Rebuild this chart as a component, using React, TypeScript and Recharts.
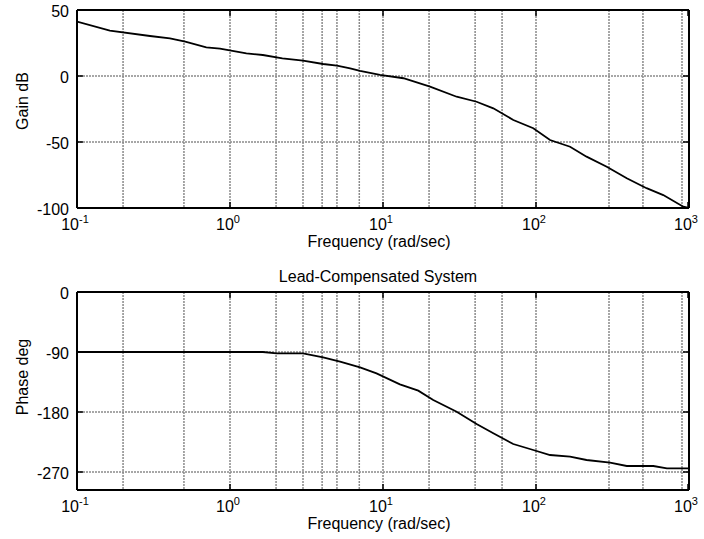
import React from 'react';
import {
    LineChart, Line, XAxis, YAxis, CartesianGrid,
} from 'recharts';

// Gain plot (top)
const GAIN_FREQ = [0.1, 0.164, 0.3, 0.405, 0.51, 0.7, 0.86, 1.28, 1.64, 2.2, 3.0, 4.06, 5.0, 6.1, 7.08, 9.55, 13.6, 20.3, 30.3, 40.9, 52.6, 71.1, 96, 123.5, 167, 214, 290, 392, 528, 679, 918, 1000];
const GAIN_DB = [41.2, 34.3, 30.3, 28.5, 26, 21.7, 20.7, 17.2, 15.9, 13.4, 11.6, 9.1, 7.8, 5.8, 3.8, 0.8, -1.7, -8.1, -15.7, -19.5, -24.5, -33.3, -39.6, -48.5, -53.6, -61.1, -68.7, -77.5, -85, -90.2, -99, -100];

// Phase plot (bottom)
const PHASE_FREQ = [0.1, 1.64, 2.02, 3.0, 4.06, 5.24, 7.08, 9.07, 12.9, 17, 21.3, 30.3, 40.9, 52.6, 71, 96, 123.5, 167, 214, 305, 392, 585, 717, 1000];
const PHASE_DEG = [-90, -90, -92, -92, -98, -104.5, -113, -122, -138.5, -148, -162, -179.5, -198, -212, -228, -237, -244.5, -247, -252, -256, -261, -261, -264.5, -264.5];

const FREQ_TICKS = [0.1, 1, 10, 100, 1000];
const GAIN_TICKS = [-100, -50, 0, 50];
const PHASE_TICKS = [-270, -180, -90, 0];

// dotted grid at every decade and minor 2..9 position
const GRID_FREQS: number[] = [];
[0.1, 1, 10, 100].forEach(d => {
    for (let m = 1; m <= 9; m++) if (!(d === 0.1 && m === 1)) GRID_FREQS.push(d * m);
});

const FONT = '"Liberation Sans", Arial, Helvetica, sans-serif';
const GRID = { stroke: '#8a8a8a', strokeWidth: 1.5, strokeDasharray: '2 1' };
const FRAME = { stroke: '#000', strokeWidth: 2 };

const toRows = (xs: number[], ys: number[]) => xs.map((f, i) => ({ f, v: ys[i] }));

const FreqTick = ({ x, y, payload }: any) => {
    const exp = Math.round(Math.log10(payload.value));
    return (
        <g>
            <line x1={x} x2={x} y1={y} y2={y - 6} stroke="#000" strokeWidth={1.5} />
            <text x={x - 2} y={y + 22} textAnchor="middle" fontSize={16} fill="#000" fontFamily={FONT}>
                <tspan>10</tspan>
                <tspan dy={-7} fontSize={11}>{exp}</tspan>
            </text>
        </g>
    );
};

const TopTick = ({ x, y }: any) => (
    <line x1={x} x2={x} y1={y} y2={y + 6} stroke="#000" strokeWidth={1.5} />
);

const LeftTick = ({ x, y, payload }: any) => (
    <g>
        <line x1={x} x2={x + 6} y1={y} y2={y} stroke="#000" strokeWidth={1.5} />
        <text x={x - 8} y={y + 7} textAnchor="end" fontSize={16} fill="#000" fontFamily={FONT}>
            {payload.value}
        </text>
    </g>
);

const RightTick = ({ x, y }: any) => (
    <line x1={x} x2={x - 6} y1={y} y2={y} stroke="#000" strokeWidth={1.5} />
);

interface PanelProps {
    rows: { f: number; v: number }[];
    yDomain: [number, number];
    yTicks: number[];
    yLabel: string;
    yLabelShift: number;
    title?: string;
    height: number;
    topPad: number;
    bottomPad: number;
}

function BodePanel({ rows, yDomain, yTicks, yLabel, yLabelShift, title, height, topPad, bottomPad }: PanelProps) {
    return (
        <LineChart width={704} height={height} data={rows} margin={{ top: 0, right: 0, bottom: 0, left: 0 }}>
            <CartesianGrid
                verticalValues={GRID_FREQS}
                horizontalValues={yTicks}
                {...GRID}
            />
            <XAxis
                xAxisId="t"
                orientation="top"
                dataKey="f"
                type="number"
                scale="log"
                domain={[0.1, 1000]}
                ticks={FREQ_TICKS}
                allowDataOverflow
                height={topPad}
                tickSize={0}
                tickMargin={0}
                axisLine={FRAME}
                tickLine={false}
                tick={<TopTick />}
                label={title ? {
                    content: ({ viewBox }: any) => (
                        <text x={viewBox.x + viewBox.width / 2 - 5} y={viewBox.y + viewBox.height - 10} textAnchor="middle"
                              fontSize={16} fill="#000" fontFamily={FONT}>{title}</text>
                    ),
                } : undefined}
            />
            <XAxis
                dataKey="f"
                type="number"
                scale="log"
                domain={[0.1, 1000]}
                ticks={FREQ_TICKS}
                allowDataOverflow
                height={bottomPad}
                tickSize={0}
                tickMargin={0}
                axisLine={FRAME}
                tickLine={false}
                tick={<FreqTick />}
                label={{
                    content: ({ viewBox }: any) => (
                        <text x={viewBox.x + viewBox.width / 2 - 4} y={viewBox.y + 39} textAnchor="middle"
                              fontSize={16} fill="#000" fontFamily={FONT}>Frequency (rad/sec)</text>
                    ),
                }}
            />
            <YAxis
                type="number"
                domain={yDomain}
                ticks={yTicks}
                allowDataOverflow
                width={77}
                tickSize={0}
                tickMargin={0}
                axisLine={FRAME}
                tickLine={false}
                tick={<LeftTick />}
                label={{
                    content: ({ viewBox }: any) => {
                        const cx = 28;
                        const cy = viewBox.y + viewBox.height / 2 + yLabelShift;
                        return (
                            <text x={cx} y={cy} textAnchor="middle" transform={`rotate(-90, ${cx}, ${cy})`}
                                  fontSize={16} fill="#000" fontFamily={FONT}>{yLabel}</text>
                        );
                    },
                }}
            />
            <YAxis
                yAxisId="r"
                orientation="right"
                type="number"
                domain={yDomain}
                ticks={yTicks}
                allowDataOverflow
                width={15}
                tickSize={0}
                tickMargin={0}
                axisLine={FRAME}
                tickLine={false}
                tick={<RightTick />}
            />
            <Line
                dataKey="v"
                type="linear"
                stroke="#000"
                strokeWidth={1.8}
                dot={false}
                activeDot={false}
                isAnimationActive={false}
            />
        </LineChart>
    );
}

export default function App() {
    return (
        <div style={{ position: 'absolute', left: 0, top: 0, width: 704, height: 539, background: '#fff' }}>
            <BodePanel
                rows={toRows(GAIN_FREQ, GAIN_DB)}
                yDomain={[-100, 50]}
                yTicks={GAIN_TICKS}
                yLabel="Gain dB"
                yLabelShift={-8}
                height={260}
                topPad={10}
                bottomPad={52}
            />
            <div style={{ position: 'absolute', left: 0, top: 262 }}>
                <BodePanel
                    rows={toRows(PHASE_FREQ, PHASE_DEG)}
                    yDomain={[-297, 0]}
                    yTicks={PHASE_TICKS}
                    yLabel="Phase deg"
                    yLabelShift={-14}
                    title="Lead-Compensated System"
                    height={277}
                    topPad={30}
                    bottomPad={49}
                />
            </div>
        </div>
    );
}
